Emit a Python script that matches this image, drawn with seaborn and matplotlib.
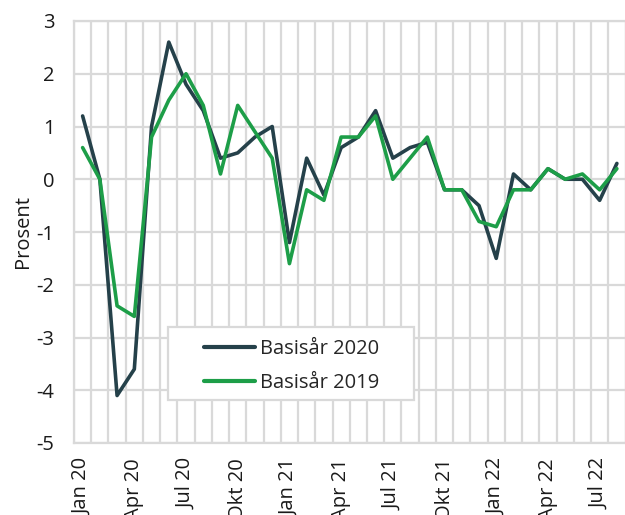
import numpy as np
import pandas as pd
import matplotlib
matplotlib.use("Agg")
import matplotlib.pyplot as plt
from matplotlib.patches import Rectangle
import seaborn as sns

# Monthly change, per cent, for two base years
periods = [
    "Jan 20", "Feb 20", "Mar 20", "Apr 20", "Mai 20", "Jun 20",
    "Jul 20", "Aug 20", "Sep 20", "Okt 20", "Nov 20", "Des 20",
    "Jan 21", "Feb 21", "Mar 21", "Apr 21", "Mai 21", "Jun 21",
    "Jul 21", "Aug 21", "Sep 21", "Okt 21", "Nov 21", "Des 21",
    "Jan 22", "Feb 22", "Mar 22", "Apr 22", "Mai 22", "Jun 22",
    "Jul 22", "Aug 22",
]
basis_2020 = [1.2, 0.0, -4.1, -3.6, 1.0, 2.6, 1.8, 1.3, 0.4, 0.5, 0.8, 1.0,
              -1.2, 0.4, -0.3, 0.6, 0.8, 1.3, 0.4, 0.6, 0.7, -0.2, -0.2, -0.5,
              -1.5, 0.1, -0.2, 0.2, 0.0, 0.0, -0.4, 0.3]
basis_2019 = [0.6, 0.0, -2.4, -2.6, 0.8, 1.5, 2.0, 1.4, 0.1, 1.4, 0.9, 0.4,
              -1.6, -0.2, -0.4, 0.8, 0.8, 1.2, 0.0, 0.4, 0.8, -0.2, -0.2, -0.8,
              -0.9, -0.2, -0.2, 0.2, 0.0, 0.1, -0.2, 0.2]
series_names = ["Basisår 2020", "Basisår 2019"]
series_colors = ["#25414a", "#1d9e48"]
tick_every = 3

sns.set_theme(style="white")
plt.rcParams["font.family"] = ["Open Sans", "DejaVu Sans"]

pos = np.arange(len(periods))
df = pd.concat([
    pd.DataFrame({"pos": pos, "periode": periods, "verdi": basis_2020, "serie": series_names[0]}),
    pd.DataFrame({"pos": pos, "periode": periods, "verdi": basis_2019, "serie": series_names[1]}),
], ignore_index=True)

W, H = 625, 515
fig = plt.figure(figsize=(W / 100, H / 100), dpi=100)
ax = fig.add_axes([74 / W, 1 - 443 / H, 551.5 / W, 422 / H])

sns.lineplot(data=df, x="pos", y="verdi", hue="serie", hue_order=series_names,
             palette=series_colors, linewidth=2.6, ax=ax, legend=True)
handles, labels = ax.get_legend_handles_labels()
ax.get_legend().remove()

fs = 14.5
grid_col = "#d9d9d9"
ax.set_xlim(-0.5, len(periods) - 0.5)
ax.set_ylim(-5, 3)
ax.set_yticks(np.arange(-5, 4, 1))
ax.set_yticklabels([str(v) for v in range(-5, 4)])
ax.set_xticks(pos[::tick_every])
ax.set_xticklabels(periods[::tick_every], rotation=90, va="top", ha="center")
ax.set_xticks(np.arange(-0.5, len(periods), 1), minor=True)
ax.grid(which="minor", axis="x", color=grid_col, linewidth=1.6)
ax.grid(which="major", axis="y", color=grid_col, linewidth=1.6)
ax.grid(which="major", axis="x", visible=False)
ax.set_axisbelow(True)
for side in ax.spines.values():
    side.set_color(grid_col)
    side.set_linewidth(1.6)
ax.tick_params(axis="both", which="both", length=0, labelsize=fs, colors="#1a1a1a")
ax.tick_params(axis="x", pad=11)
ax.tick_params(axis="y", pad=14)
ax.set_xlabel("")
ax.set_ylabel("Prosent", fontsize=fs, color="#1a1a1a", labelpad=2.5)

# Legend box with generous inner margins
box = Rectangle((168 / W, 1 - 400 / H), (414 - 168) / W, (400 - 327) / H,
                transform=fig.transFigure, facecolor="white", edgecolor=grid_col,
                linewidth=1.6, zorder=5)
fig.add_artist(box)

leg = fig.legend(handles, labels, loc="upper left",
                 bbox_to_anchor=(204 / W, 1 - 339 / H), bbox_transform=fig.transFigure,
                 fontsize=fs, frameon=False, handlelength=2.55, handletextpad=0.25,
                 labelspacing=0.7, borderpad=0, borderaxespad=0)
leg.set_zorder(6)
for h in leg.get_lines():
    h.set_linewidth(3)

fig.savefig("out.png", dpi=100)
